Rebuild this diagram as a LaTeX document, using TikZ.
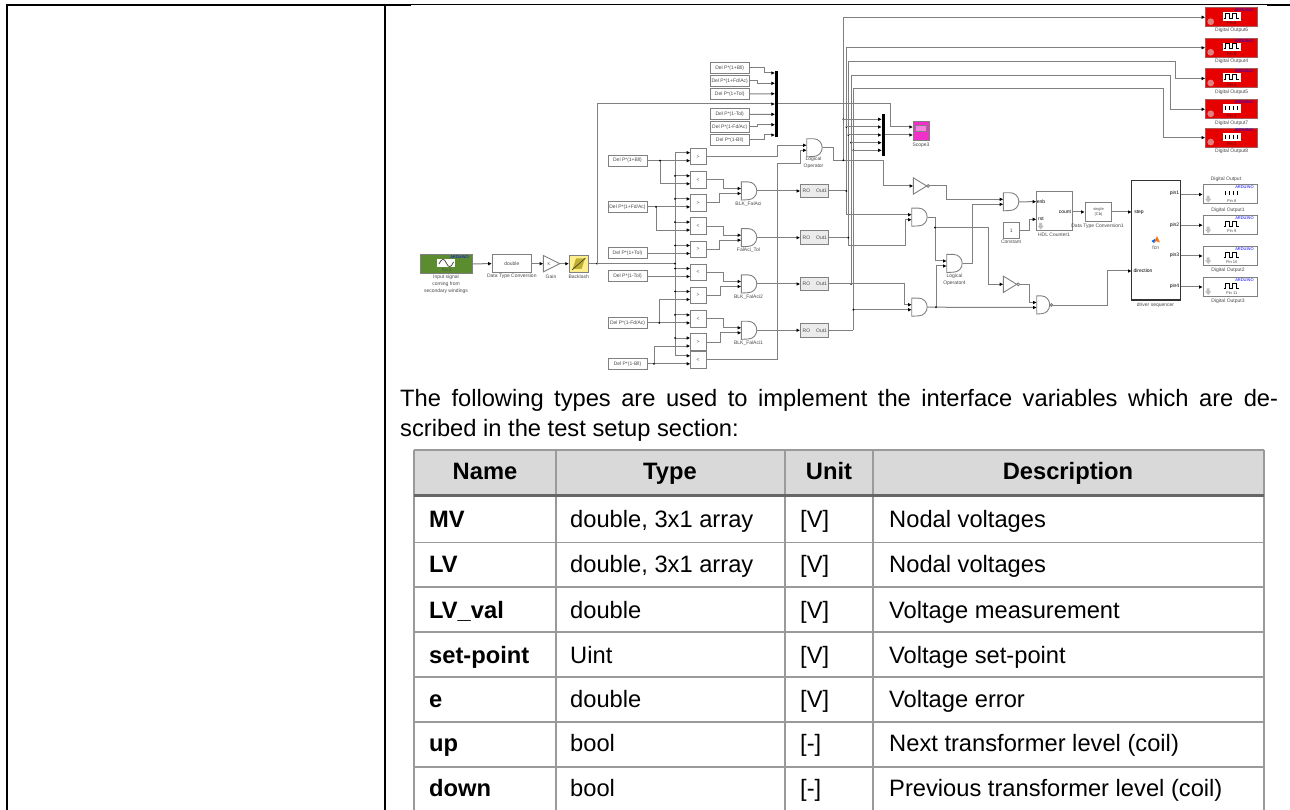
\documentclass[tikz,border=0pt]{standalone}
\usepackage{fontspec}
\setmainfont{Liberation Sans}
\usetikzlibrary{arrows.meta,calc}
\definecolor{wirec}{HTML}{808080}
\definecolor{blkc}{HTML}{808080}
\definecolor{txtc}{HTML}{4A4A4A}
\definecolor{tabc}{HTML}{9A9A9A}
\definecolor{redb}{HTML}{E60000}
\definecolor{redc}{HTML}{E08080}
\definecolor{greenb}{HTML}{5C8C30}
\definecolor{scopec}{HTML}{F030C8}
\definecolor{yelb}{HTML}{FFEE8C}
\definecolor{yeli}{HTML}{BDB030}
\newcommand\tf{\fontsize{5}{6}\selectfont}
\newcommand\vtf{\fontsize{4}{5}\selectfont}
\newcommand\bigf{\fontsize{23.7}{28}\selectfont}
\tikzset{
  frameline/.style={draw=black,line width=2pt},
  thinline/.style={draw=black,line width=1pt},
  wire/.style={draw=wirec,line width=1pt},
  arr/.style={wire,-{Latex[length=3.6pt,width=3.6pt,color=black]}},
  blk/.style={draw=blkc,line width=1pt,fill=white,inner sep=0pt,font=\tf,text=txtc,align=center},
  lbl/.style={inner sep=0pt,font=\tf,text=txtc,align=center},
  gatebox/.style={inner sep=0pt,anchor=west},
  gateline/.style={draw=blkc,line width=.9pt,fill=white},
  mux/.style={fill=black,draw=none,inner sep=0pt},
  cellb/.style={anchor=base west,inner sep=0pt,font=\bigf\bfseries},
  cellc/.style={anchor=base,inner sep=0pt,font=\bigf\bfseries},
  cellt/.style={anchor=base west,inner sep=0pt,font=\bigf},
  grid/.style={draw=tabc,line width=1.6pt},
}
% relational block: name, centre y, symbol
\newcommand\relb[3]{%
  \node[blk,minimum width=15.7pt,minimum height=16.6pt] (#1) at (698.2,#2) {#3};
  \coordinate (#1a) at (690.3,#2-4);
  \coordinate (#1b) at (690.3,#2+4);
}
\newcommand\constb[4]{%
  \node[blk,minimum width=39pt,minimum height=11pt] (#1) at (#2,#3) {#4};
}
\newcommand\andg[3]{%
  \node[gatebox,minimum width=15.5pt,minimum height=17.7pt] (#1) at (#2,#3) {};
  \draw[gateline] (#1.north west) -- ++(7pt,0pt) arc[start angle=90,end angle=-90,x radius=8.5pt,y radius=8.85pt] -- (#1.south west) -- cycle;
  \coordinate (#1a) at (#2,#3-2.5);
  \coordinate (#1b) at (#2,#3+2.5);
}
\newcommand\nandg[3]{%
  \node[gatebox,minimum width=15.5pt,minimum height=17.7pt] (#1) at (#2,#3) {};
  \draw[gateline] (#1.north west) -- ++(5pt,0pt) arc[start angle=90,end angle=-90,x radius=8pt,y radius=8.85pt] -- (#1.south west) -- cycle;
  \draw[gateline] (#1.east) ++(-1.2pt,0pt) circle (1.3pt);
  \coordinate (#1a) at (#2,#3-2.5);
  \coordinate (#1b) at (#2,#3+2.5);
}
\newcommand\notg[3]{%
  \node[gatebox,minimum width=16pt,minimum height=16pt] (#1) at (#2,#3) {};
  \draw[gateline] (#1.north west) -- ($(#1.east)+(-3pt,0pt)$) -- (#1.south west) -- cycle;
  \draw[gateline] (#1.east) ++(-1.5pt,0pt) circle (1.4pt);
  \coordinate (#1a) at (#1.west);
}
% junction dot
\newcommand\jd[2]{\fill[black] (#1,#2) circle (1pt);}
% grey down arrow icon at top-left point of its stem
\newcommand\darrow[2]{\fill[black!25] (#1,#2) -- ++(3pt,0pt) -- ++(0pt,-3pt) -- ++(1.5pt,0pt) -- ++(-3pt,-3.5pt) -- ++(-3pt,3.5pt) -- ++(1.5pt,0pt) -- cycle;}
% wave forms, relative to a point
\newcommand\pulse[2]{\draw[black,line width=.8pt] (#1-8,#2+2.5) -- ++(2pt,0pt) -- ++(0pt,5pt) -- ++(4pt,0pt) -- ++(0pt,-5pt) -- ++(3pt,0pt) -- ++(0pt,5pt) -- ++(4pt,0pt) -- ++(0pt,-5pt) -- ++(2pt,0pt);}
\newcommand\ticks[2]{\draw[black,line width=1pt] (#1-6,#2-1.6) -- ++(0pt,-4pt) (#1-2,#2-1.6) -- ++(0pt,-4pt) (#1+2,#2-1.6) -- ++(0pt,-4pt) (#1+6,#2-1.6) -- ++(0pt,-4pt);}
% red Arduino block: name, centre y, pin, kind (p or t)
\newcommand\redblk[4]{%
  \node[draw=blkc!70!red,line width=1pt,fill=redb,inner sep=0pt,minimum width=52pt,minimum height=19pt] (#1) at (1231.7,#2) {};
  \fill[white] (1222.7,#2-5) rectangle (1240.7,#2+3.5);
  \fill[redc] (1210.7,#2+4.5) circle (3.4pt);
  \node[inner sep=0pt,font=\vtf,text=blue] (#1ard) at (1244,#2-7) {ARDUINO};
  \node[inner sep=0pt,font=\vtf,text=black!70!red] (#1pin) at (1231.7,#2+6.3) {#3};
  \if#4p\pulse{1231.7}{#2-1.4}\else\ticks{1231.7}{#2-1.4}\fi
}
\newcommand\whtblk[4]{%
  \node[draw=blkc,line width=1pt,fill=white,inner sep=0pt,minimum width=54.4pt,minimum height=19pt] (#1) at (1230.5,#2) {};
  \darrow{1206.7}{#2+1.5}
  \node[inner sep=0pt,font=\vtf,text=blue] (#1ard) at (1244.5,#2-7) {ARDUINO};
  \node[inner sep=0pt,font=\vtf,text=txtc] (#1pin) at (1231.7,#2+6.3) {#3};
  \if#4p\pulse{1231.7}{#2-1.4}\else\ticks{1231.7}{#2-1.4}\fi
}
\begin{document}
\begin{tikzpicture}[x=1pt,y=-1pt]
\useasboundingbox (0,0) rectangle (1290,810);
\fill[white] (0,0) rectangle (1290,810);
% page frame
\draw[frameline] (6,5) -- (411,5);
\draw[thinline] (411,4.5) -- (1267,4.5);
\draw[frameline] (1267,5) -- (1290,5);
\draw[frameline] (7,4) -- (7,810);
\draw[frameline] (385,4) -- (385,810);

% ---------- source chain
\node[draw=blkc,line width=1pt,fill=greenb,inner sep=0pt,minimum width=51.6pt,minimum height=19pt] (inp) at (446.5,263.8) {};
\fill[white] (437.3,259) rectangle (455.3,267.5);
\draw[black!70,line width=.8pt] (439,264) .. controls (442,258) and (444,258) .. (446.3,263) .. controls (448.5,268) and (451,268) .. (453.5,262);
\node[inner sep=0pt,font=\vtf,text=blue] (inpard) at (459.5,257) {ARDUINO};
\node[inner sep=0pt,font=\vtf,text=black!70] (inppin) at (446.5,270) {Pin 0};
\node[lbl] (inplb) at (446,284.3) {Input signal\\[1.1pt]coming from\\[1.1pt]secondary windings};
\node[blk,minimum width=39pt,minimum height=17.6pt] (dtc) at (511.8,263.7) {double};
\node[lbl] (dtclb) at (511.8,276.5) {Data Type Conversion};
\node[gatebox,minimum width=16pt,minimum height=16pt] (gain) at (543.3,263.7) {};
\draw[gateline] (gain.north west) -- (gain.east) -- (gain.south west) -- cycle;
\node[inner sep=0pt,font=\vtf,text=txtc] (gaink) at (549,263.7) {K};
\node[lbl] (gainlb) at (551,276.3) {Gain};
\node[draw=blkc,line width=1pt,fill=yelb,inner sep=0pt,minimum width=18.7pt,minimum height=16.7pt] (back) at (578.7,263.7) {};
\fill[yeli] (572.5,269) -- (576,258.5) -- (585,258.5) -- (581.5,269) -- cycle;
\draw[black!80,line width=.6pt] (572,270) -- (585.5,258);
\node[lbl] (backlb) at (578.7,276.3) {Backlash};

% ---------- relational blocks
\relb{ra}{156.7}{>}
\relb{rb}{179.8}{<}
\relb{rc}{202.9}{>}
\relb{rd}{226.1}{<}
\relb{re}{249.5}{>}
\relb{rf}{272.5}{<}
\relb{rg}{295.5}{>}
\relb{rh}{318.9}{<}
\relb{ri}{342}{>}
\relb{rj}{359.8}{<}

% ---------- left constants
\constb{ca}{627.5}{160.7}{Del P*(1+Bll)}
\constb{cb}{627.5}{206.9}{Del P*(1+Fd/Ac)}
\constb{cc}{627.5}{253.5}{Del P*(1+Tol)}
\constb{cd}{627.5}{276.5}{Del P*(1-Tol)}
\constb{ce}{627.5}{322.9}{Del P*(1-Fd/Ac)}
\constb{cf}{627.5}{363.8}{Del P*(1-Bll)}

% ---------- upper constants
\constb{ua}{729.7}{68}{Del P*(1+Bll)}
\constb{ub}{729.7}{81}{Del P*(1+Fd/Ac)}
\constb{uc}{729.7}{94}{Del P*(1+Tol)}
\constb{ud}{729.7}{114.5}{Del P*(1-Tol)}
\constb{ue}{729.7}{127}{Del P*(1-Fd/Ac)}
\constb{uf}{729.7}{140}{Del P*(1-Bll)}
\coordinate (mia) at (775,73);
\coordinate (mib) at (775,83.3);
\coordinate (mic) at (775,93.7);
\coordinate (mid) at (775,104);
\coordinate (mie) at (775,114.3);
\coordinate (mif) at (775,124.7);
\coordinate (mig) at (775,135);

% ---------- gates
\andg{lo}{806.7}{147.8}
\andg{fa}{741.3}{191}
\andg{fb}{741.3}{237.7}
\andg{fc}{741.3}{284}
\andg{fd}{741.3}{330.3}
\andg{ga}{911.7}{217.2}
\andg{gb}{911.7}{307.2}
\andg{op}{946.7}{263.5}
\andg{gc}{1003.3}{201.8}
\nandg{nd}{1036.7}{305}
\notg{na}{913.3}{186}
\notg{nb}{1003.3}{284.3}
\node[lbl] (lolb) at (813.5,163) {Logical\\[1pt]Operator};
\node[lbl] (falb) at (748.5,204.3) {BLK\_FalAci};
\node[lbl] (fblb) at (748.5,250.3) {FalAci\_Tol};
\node[lbl] (fclb) at (748.5,296.8) {BLK\_FalAci2};
\node[lbl] (fdlb) at (748.5,343.3) {BLK\_FalAci1};
\node[lbl] (oplb) at (954.5,280) {Logical\\[1pt]Operator4};

% ---------- RO blocks
\tikzset{roblk/.style={draw=blkc,line width=1pt,fill=black!8,inner sep=0pt,minimum width=28.3pt,minimum height=13.5pt,font=\tf,text=txtc}}
\node[roblk] (roa) at (814.8,191) {RO\hspace{6pt}Out1};
\node[roblk] (rob) at (814.8,237.7) {RO\hspace{6pt}Out1};
\node[roblk] (roc) at (814.8,284) {RO\hspace{6pt}Out1};
\node[roblk] (rod) at (814.8,330.3) {RO\hspace{6pt}Out1};

% ---------- scope
\node[draw=blkc,line width=1pt,fill=scopec,inner sep=0pt,minimum width=16pt,minimum height=18.7pt] (sc) at (921,131.3) {};
\draw[black!50,fill=scopec!60!white] (915.5,125) rectangle (926.5,131);
\node[lbl] (sclb) at (921,145) {Scope3};
\coordinate (sca) at (913,127);
\coordinate (scb) at (913,135);

% ---------- right-hand blocks
\node[blk,minimum width=36.4pt,minimum height=39pt] (hdl) at (1054.5,211.2) {};
\node[inner sep=0pt,font=\tf,text=black] (hdle) at (1041,201.7) {enb};
\node[inner sep=0pt,font=\tf,text=black] (hdlr) at (1041,219.3) {rst};
\node[inner sep=0pt,font=\tf,text=black] (hdlc) at (1065,212) {count};
\darrow{1039.2}{223}
\node[lbl] (hdllb) at (1054,234.7) {HDL Counter1};
\coordinate (hdla) at (1036.3,201.7);
\coordinate (hdlb) at (1036.3,219.3);
\coordinate (hdlo) at (1072.7,212);
\node[blk,minimum width=16pt,minimum height=16pt] (cn) at (1011.3,230.3) {1};
\node[lbl] (cnlb) at (1011,242) {Constant};
\node[blk,minimum width=26.4pt,minimum height=19pt,font=\vtf] (dtd) at (1098.5,212) {single\\[.8pt](Cb)};
\node[lbl] (dtdlb) at (1097.5,226) {Data Type Conversion1};
\node[draw=black!80,line width=1.4pt,fill=white,inner sep=0pt,minimum width=49pt,minimum height=119.3pt] (drv) at (1156.2,240.3) {};
\node[lbl] (drvlb) at (1155.5,305) {driver sequencer};
\node[inner sep=0pt,font=\tf,text=black] (drvs) at (1139,212) {step};
\node[inner sep=0pt,font=\tf,text=black] (drvd) at (1143,271) {direction};
\node[inner sep=0pt,font=\tf,text=black] (drvp1) at (1174.5,193.7) {pin1};
\node[inner sep=0pt,font=\tf,text=black] (drvp2) at (1174.5,225) {pin2};
\node[inner sep=0pt,font=\tf,text=black] (drvp3) at (1174.5,255.7) {pin3};
\node[inner sep=0pt,font=\tf,text=black] (drvp4) at (1174.5,286.7) {pin4};
\fill[orange!90!red] (1157,236) -- (1160,242.5) -- (1156,241) -- (1154,243) -- cycle;
\fill[blue!60!cyan] (1151.5,241) -- (1155.5,238.5) -- (1154,243) -- cycle;
\node[lbl] (drvf) at (1155.7,248) {fcn};
\coordinate (drva) at (1131.7,212);
\coordinate (drvb) at (1131.7,271);
\coordinate (drvoa) at (1180.7,194.5);
\coordinate (drvob) at (1180.7,225.2);
\coordinate (drvoc) at (1180.7,256);
\coordinate (drvod) at (1180.7,287);

\redblk{oa}{17.2}{Pin 6}{p}
\redblk{ob}{47.8}{Pin 5}{p}
\redblk{oc}{78.5}{Pin 4}{p}
\redblk{od}{109.3}{Pin 3}{t}
\redblk{oe}{137.6}{Pin 2}{t}
\node[lbl] (oalb) at (1231.7,30.4) {Digital Output6};
\node[lbl] (oblb) at (1231.7,61.6) {Digital Output4};
\node[lbl] (oclb) at (1231.7,92.7) {Digital Output5};
\node[lbl] (odlb) at (1231.7,123) {Digital Output7};
\node[lbl] (oelb) at (1231.7,151) {Digital Output8};
\whtblk{wa}{194.5}{Pin 8}{t}
\whtblk{wb}{225.2}{Pin 9}{p}
\whtblk{wc}{256}{Pin 10}{p}
\whtblk{wd}{287}{Pin 11}{p}
\node[lbl] (wlb0) at (1226,179.5) {Digital Output};
\node[lbl] (walb) at (1228,210) {Digital Output1};
\node[lbl] (wclb) at (1228,269.8) {Digital Output2};
\node[lbl] (wdlb) at (1228,301) {Digital Output3};

% ---------- wires: source chain
\draw[arr] (inp.east) -- (dtc.west);
\draw[arr] (dtc.east) -- (gain.west);
\draw[arr] (gain.east) -- (back.west);
\coordinate (busc) at (675,263.7);
\coordinate (bust) at (675,152.7);
\coordinate (busb) at (675,355.8);
\draw[wire] (back.east) -- (busc);
\draw[wire] (bust) -- (busb);
\jd{597}{263.7}\jd{675}{263.7}
\draw[arr] (597,263.7) |- (mid);
\foreach \n in {ra,rb,rc,rd,re,rf,rg,rh,ri,rj}{\draw[arr] (bust |- \n a) -- (\n a);}
\foreach \yy in {175.8,198.9,222.1,245.5,268.5,291.5,314.9,338}{\jd{675}{\yy}}
% constants to relational blocks
\draw[arr] (ca.east) -- (rab);
\draw[arr] (660,160.7) |- (rbb); \jd{660}{160.7}
\draw[arr] (cb.east) -- (rcb);
\draw[arr] (656,206.9) |- (rdb); \jd{656}{206.9}
\draw[arr] (cc.east) -- (reb);
\draw[arr] (cd.east) -- (rfb);
\draw[arr] (ce.east) -- (rhb);
\draw[arr] (659.3,322.9) |- (rgb); \jd{659.3}{322.9}
\draw[arr] (cf.east) -- (rjb);
\draw[arr] (654,363.8) |- (rib); \jd{654}{363.8}
% relational to gates
\draw[arr] (ra.east) -| (777,145.3) -- (loa);
\draw[arr] (rj.east) -| (777,163.7) -- (800,163.7) |- (lob);
\draw[arr] (rb.east) -| (723.3,188.5) -- (faa);
\draw[arr] (rc.east) -| (719.3,193.5) -- (fab);
\draw[arr] (rd.east) -| (723.3,235.2) -- (fba);
\draw[arr] (re.east) -| (719.3,240.2) -- (fbb);
\draw[arr] (rf.east) -| (723.3,281.5) -- (fca);
\draw[arr] (rg.east) -| (720.7,286.5) -- (fcb);
\draw[arr] (rh.east) -| (723.3,327.8) -- (fda);
\draw[arr] (ri.east) -| (720.7,332.8) -- (fdb);
\draw[arr] (fa.east) -- (roa.west);
\draw[arr] (fb.east) -- (rob.west);
\draw[arr] (fc.east) -- (roc.west);
\draw[arr] (fd.east) -- (rod.west);
% upper constants to mux
\draw[arr] (ua.east) -- (764,68) |- (mia);
\draw[arr] (ub.east) -- (757,81) |- (mib);
\draw[arr] (uc.east) -- (mic);
\draw[arr] (ud.east) -- (mie);
\draw[arr] (ue.east) -- (757,127) |- (mif);
\draw[arr] (uf.east) -- (764,140) |- (mig);
% verticals and outputs
\draw[arr] (lo.east) -| (833,160.3) -- (883.3,160.3) |- (naa);
\draw[arr] (843.3,160.3) |- (oa.west);
\draw[arr] (846.3,214.7) |- (ob.west);
\draw[arr] (848.3,245.3) -- (848.3,61.3) -- (1175,61.3) |- (oc.west);
\draw[arr] (851,284) -- (851,75.3) -- (1170.7,75.3) |- (od.west);
\draw[arr] (853.3,330.3) -- (853.3,89) -- (1163.7,89) |- (oe.west);
\draw[wire] (roa.east) -- (846.3,191);
\draw[wire] (rob.east) -- (848.3,237.7);
\draw[wire] (rod.east) -- (853.3,330.3);
\jd{843.3}{160.3}\jd{846.3}{191}\jd{848.3}{237.7}\jd{851}{284}
\draw[arr] (846.3,214.7) -- (gaa);
\draw[arr] (848.3,245.3) -- (905.3,245.3) |- (gab);
\draw[arr] (roc.east) -- (904,284) |- (gba);
\draw[arr] (853.3,309.7) -- (gbb);
\jd{853.3}{309.7}
% mux 2
\foreach \xx/\yy in {843.3/119.3,846.3/127,848.3/135,851/142.7,853.3/150.3}{%
  \jd{\xx}{\yy}
  \draw[arr] (\xx,\yy) -- (881.8,\yy);
}
\draw[arr] (777,104) -- (890.3,104) |- (sca);
\draw[arr] (885,135) -- (scb);
% gates, right
\draw[arr] (na.east) -| (946.3,199.3) -- (gca);
\draw[wire] (ga.east) -| (935,227.7);
\draw[arr] (935,227.7) |- (opa);
\draw[arr] (935,227.7) -- (988.3,227.7) |- (nba);
\jd{935}{227.7}
\draw[arr] (gb.east) -- (ndb);
\draw[arr] (936,307.2) |- (opb); \jd{936}{307.2}
\draw[arr] (op.east) -| (972.3,204.3) -- (gcb);
\draw[arr] (nb.east) -| (1029.3,302.5) -- (nda);
\draw[arr] (gc.east) -- (hdla);
\draw[arr] (cn.east) -| (1029,219.3) -- (hdlb);
\draw[arr] (hdlo) -- (dtd.west);
\draw[arr] (dtd.east) -- (drva);
\draw[arr] (nd.east) -| (1107.7,271) -- (drvb);
\draw[arr] (drvoa) -- (wa.west);
\draw[arr] (drvob) -- (wb.west);
\draw[arr] (drvoc) -- (wc.west);
\draw[arr] (drvod) -- (wd.west);

% muxes on top
\node[mux,minimum width=3pt,minimum height=66pt] (mxa) at (776.5,104) {};
\node[mux,minimum width=3pt,minimum height=42.5pt] (mxb) at (883.5,134.8) {};

% ---------- paragraph
\node[anchor=base west,inner sep=0pt,font=\bigf] (pa) at (400,406.7) {\makebox[878pt][s]{The following types are used to implement the interface variables which are de-}};
\node[anchor=base west,inner sep=0pt,font=\bigf] (pb) at (400,436) {scribed in the test setup section:};

% ---------- table
\fill[black!15] (414,450) rectangle (1264,495.7);
\draw[grid] (414,450) -- (1264,450);
\foreach \yy in {542.3,586.7,631.7,676.7,721.7,766.7}{\draw[grid] (414,\yy) -- (1264,\yy);}
\foreach \xx in {414,555.7,785,873,1264}{\draw[grid] (\xx,450) -- (\xx,810);}
\draw[draw=black!60,line width=3pt] (414,495.7) -- (1264,495.7);
\node[cellc] (hn) at (485,479) {Name};
\node[cellc] (ht) at (670,479) {Type};
\node[cellc] (hu) at (829,479) {Unit};
\node[cellc] (hd) at (1068,479) {Description};
\node[cellb] (n1) at (429,527.7) {MV};
\node[cellb] (n2) at (429,572.7) {LV};
\node[cellb] (n3) at (429,618.3) {LV\_val};
\node[cellb] (n4) at (429,663.3) {set-point};
\node[cellb] (n5) at (429,707.3) {e};
\node[cellb] (n6) at (429,751.7) {up};
\node[cellb] (n7) at (429,796.7) {down};
\node[cellt] (t1) at (570,527.7) {double, 3x1 array};
\node[cellt] (t2) at (570,572.7) {double, 3x1 array};
\node[cellt] (t3) at (570,618.3) {double};
\node[cellt] (t4) at (570,663.3) {Uint};
\node[cellt] (t5) at (570,707.3) {double};
\node[cellt] (t6) at (570,751.7) {bool};
\node[cellt] (t7) at (570,796.7) {bool};
\node[cellt] (u1) at (800,527.7) {[V]};
\node[cellt] (u2) at (800,572.7) {[V]};
\node[cellt] (u3) at (800,618.3) {[V]};
\node[cellt] (u4) at (800,663.3) {[V]};
\node[cellt] (u5) at (800,707.3) {[V]};
\node[cellt] (u6) at (800,751.7) {[-]};
\node[cellt] (u7) at (800,796.7) {[-]};
\node[cellt] (d1) at (889,527.7) {Nodal voltages};
\node[cellt] (d2) at (889,572.7) {Nodal voltages};
\node[cellt] (d3) at (889,618.3) {Voltage measurement};
\node[cellt] (d4) at (889,663.3) {Voltage set-point};
\node[cellt] (d5) at (889,707.3) {Voltage error};
\node[cellt] (d6) at (889,751.7) {Next transformer level (coil)};
\node[cellt] (d7) at (889,796.7) {Previous transformer level (coil)};
\end{tikzpicture}
\end{document}
